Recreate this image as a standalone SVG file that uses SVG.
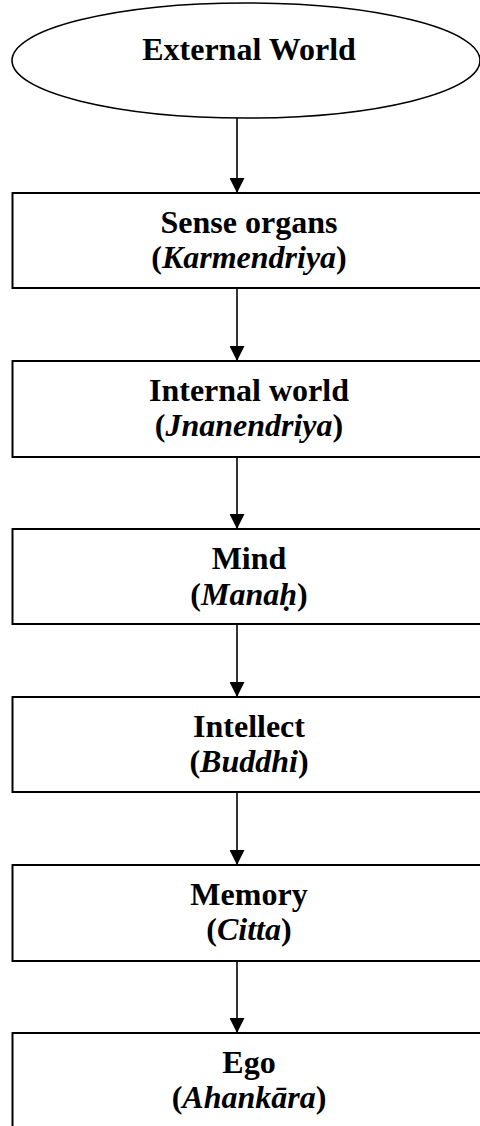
<svg xmlns="http://www.w3.org/2000/svg" width="480" height="1126" viewBox="0 0 480 1126">
  <style>
    .box { fill: #ffffff; stroke: #000000; stroke-width: 2; }
    .ell { fill: #ffffff; stroke: #000000; stroke-width: 1.6; }
    .lbl { font-family: "Liberation Serif", "Times New Roman", serif; font-weight: bold; font-size: 32px; fill: #000000; text-anchor: middle; }
    .it { font-style: italic; }
    .edge { stroke: #000000; stroke-width: 1.6; fill: none; }
  </style>
  <defs>
    <marker id="arrow" markerUnits="userSpaceOnUse" markerWidth="16" markerHeight="15" refX="15" refY="7.5" orient="auto">
      <path d="M0,0 L15,7.5 L0,15 Z" fill="#000000"/>
    </marker>
  </defs>
  <rect width="480" height="1126" fill="#ffffff"/>

  <g id="connectors">
    <line class="edge" x1="237" y1="118" x2="237" y2="193" marker-end="url(#arrow)"/>
    <line class="edge" x1="237" y1="288" x2="237" y2="361" marker-end="url(#arrow)"/>
    <line class="edge" x1="237" y1="457" x2="237" y2="529" marker-end="url(#arrow)"/>
    <line class="edge" x1="237" y1="624" x2="237" y2="697" marker-end="url(#arrow)"/>
    <line class="edge" x1="237" y1="792" x2="237" y2="865" marker-end="url(#arrow)"/>
    <line class="edge" x1="237" y1="961" x2="237" y2="1033" marker-end="url(#arrow)"/>
  </g>

  <g id="external-world">
    <ellipse class="ell" cx="246" cy="60.5" rx="234" ry="57.5"/>
    <text class="lbl" x="249" y="60">External World</text>
  </g>

  <g id="sense-organs">
    <rect class="box" x="12.5" y="193" width="480" height="95"/>
    <text class="lbl" x="249" y="233">Sense organs</text>
    <text class="lbl" x="249" y="268">(<tspan class="it">Karmendriya</tspan>)</text>
  </g>

  <g id="internal-world">
    <rect class="box" x="12.5" y="361" width="480" height="96"/>
    <text class="lbl" x="249" y="401">Internal world</text>
    <text class="lbl" x="249" y="436">(<tspan class="it">Jnanendriya</tspan>)</text>
  </g>

  <g id="mind">
    <rect class="box" x="12.5" y="529" width="480" height="95"/>
    <text class="lbl" x="249" y="569">Mind</text>
    <text class="lbl" x="249" y="605">(<tspan class="it">Manaḥ</tspan>)</text>
  </g>

  <g id="intellect">
    <rect class="box" x="12.5" y="697" width="480" height="95"/>
    <text class="lbl" x="249" y="737">Intellect</text>
    <text class="lbl" x="249" y="772">(<tspan class="it">Buddhi</tspan>)</text>
  </g>

  <g id="memory">
    <rect class="box" x="12.5" y="865" width="480" height="96"/>
    <text class="lbl" x="249" y="905">Memory</text>
    <text class="lbl" x="249" y="940">(<tspan class="it">Citta</tspan>)</text>
  </g>

  <g id="ego">
    <rect class="box" x="12.5" y="1033" width="480" height="120"/>
    <text class="lbl" x="249" y="1073">Ego</text>
    <text class="lbl" x="249" y="1108">(<tspan class="it">Ahankāra</tspan>)</text>
  </g>
</svg>
